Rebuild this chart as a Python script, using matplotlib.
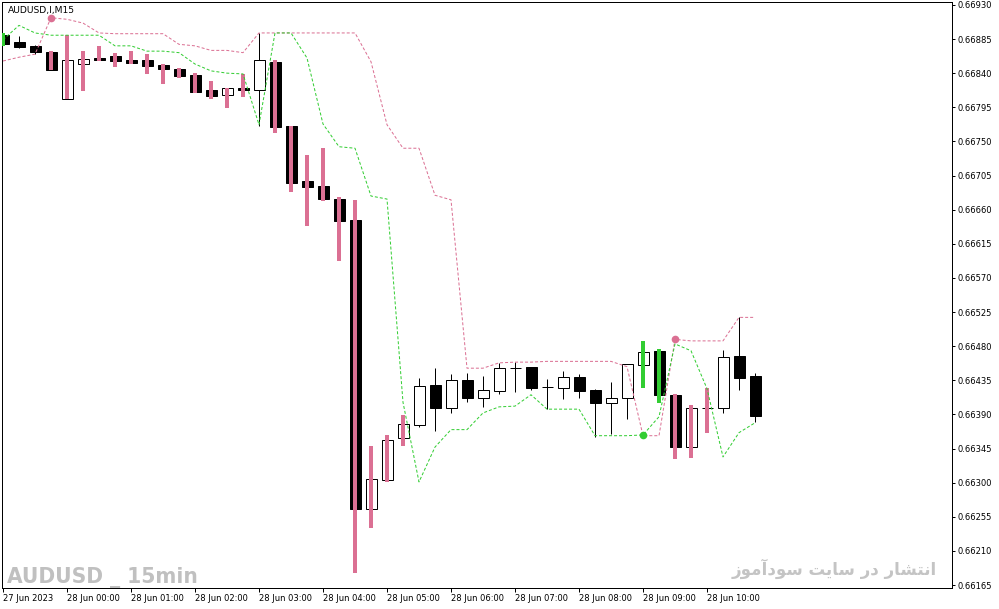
import matplotlib
matplotlib.use("Agg")
import matplotlib.pyplot as plt
from matplotlib import font_manager as fm
import numpy as np

plt.rcParams['lines.scale_dashes'] = False

# ---------------- data ----------------
symbol_title = "AUDUSD,I,M15"
watermark_left = "AUDUSD _ 15min"
watermark_right = "انتشار در سایت سودآموز"

time_labels = ["27 Jun 2023", "28 Jun 00:00", "28 Jun 01:00", "28 Jun 02:00",
               "28 Jun 03:00", "28 Jun 04:00", "28 Jun 05:00", "28 Jun 06:00",
               "28 Jun 07:00", "28 Jun 08:00", "28 Jun 09:00", "28 Jun 10:00"]
time_label_bar = [0, 4, 8, 12, 16, 20, 24, 28, 32, 36, 40, 44]

price_ticks = [0.66165, 0.66210, 0.66255, 0.66300, 0.66345, 0.66390, 0.66435,
               0.66480, 0.66525, 0.66570, 0.66615, 0.66660, 0.66705, 0.66750,
               0.66795, 0.66840, 0.66885, 0.66930]
price_labels = ["0.66165", "0.66210", "0.66255", "0.66300", "0.66345", "0.66390",
                "0.66435", "0.66480", "0.66525", "0.66570", "0.66615", "0.66660",
                "0.66705", "0.66750", "0.66795", "0.66840", "0.66885", "0.66930"]

opens = [0.66890, 0.66881, 0.66876, 0.66868, 0.66806, 0.66852, 0.66860, 0.66863,
         0.66857, 0.66857, 0.66851, 0.66845, 0.66838, 0.66818, 0.66811, 0.66820,
         0.66818, 0.66855, 0.66770, 0.66698, 0.66691, 0.66674, 0.66646, 0.66265,
         0.66304, 0.66359, 0.66376, 0.66429, 0.66399, 0.66435, 0.66412, 0.66421,
         0.66451, 0.66453, 0.66426, 0.66425, 0.66439, 0.66422, 0.66405, 0.66412,
         0.66455, 0.66474, 0.66416, 0.66347, 0.66399, 0.66399, 0.66467, 0.66441]
highs = [0.66893, 0.66889, 0.66877, 0.66869, 0.66890, 0.66869, 0.66876, 0.66867,
         0.66869, 0.66865, 0.66852, 0.66847, 0.66840, 0.66830, 0.66820, 0.66839,
         0.66893, 0.66857, 0.66770, 0.66732, 0.66741, 0.66677, 0.66673, 0.66348,
         0.66363, 0.66389, 0.66438, 0.66451, 0.66443, 0.66445, 0.66441, 0.66458,
         0.66459, 0.66453, 0.66437, 0.66447, 0.66443, 0.66424, 0.66433, 0.66457,
         0.66487, 0.66476, 0.66417, 0.66402, 0.66425, 0.66475, 0.66518, 0.66445]
lows = [0.66876, 0.66873, 0.66865, 0.66844, 0.66806, 0.66816, 0.66856, 0.66848,
        0.66852, 0.66839, 0.66826, 0.66834, 0.66814, 0.66806, 0.66794, 0.66809,
        0.66770, 0.66761, 0.66683, 0.66638, 0.66671, 0.66592, 0.66181, 0.66240,
        0.66301, 0.66348, 0.66373, 0.66368, 0.66392, 0.66406, 0.66400, 0.66417,
        0.66420, 0.66422, 0.66397, 0.66410, 0.66412, 0.66360, 0.66364, 0.66384,
        0.66425, 0.66405, 0.66331, 0.66333, 0.66366, 0.66392, 0.66422, 0.66380]
closes = [0.66878, 0.66874, 0.66868, 0.66844, 0.66857, 0.66859, 0.66857, 0.66856,
          0.66853, 0.66849, 0.66845, 0.66836, 0.66815, 0.66810, 0.66820, 0.66818,
          0.66857, 0.66769, 0.66695, 0.66690, 0.66674, 0.66645, 0.66265, 0.66305,
          0.66356, 0.66377, 0.66428, 0.66399, 0.66435, 0.66412, 0.66422, 0.66451,
          0.66451, 0.66425, 0.66426, 0.66439, 0.66421, 0.66405, 0.66412, 0.66457,
          0.66472, 0.66416, 0.66347, 0.66399, 0.66399, 0.66466, 0.66438, 0.66388]

# wick colour per bar: g = green, k = black, p = pink
wick_kind = list("gkk" + "p" * 13 + "k" + "p" * 9 + "k" * 14 + "gg" + "ppp" + "kkk")

upper_band = [0.66856, 0.66861, 0.66865, 0.66913, 0.66911, 0.66906, 0.66893, 0.66892,
              0.66892, 0.66892, 0.66892, 0.66878, 0.66876, 0.66870, 0.66870, 0.66867,
              0.66893, 0.66893, 0.66893, 0.66893, 0.66893, 0.66893, 0.66893, 0.66855,
              0.66772, 0.66741, 0.66741, 0.66679, 0.66673, 0.66451, 0.66451, 0.66458,
              0.66459, 0.66459, 0.66460, 0.66460, 0.66460, 0.66460, 0.66460, 0.66453,
              0.66362, 0.66362, 0.66489, 0.66487, 0.66487, 0.66487, 0.66518, 0.66518]
lower_band = [0.66884, 0.66903, 0.66893, 0.66890, 0.66890, 0.66890, 0.66890, 0.66876,
              0.66876, 0.66869, 0.66869, 0.66867, 0.66852, 0.66843, 0.66840, 0.66839,
              0.66772, 0.66893, 0.66893, 0.66860, 0.66773, 0.66743, 0.66741, 0.66678,
              0.66674, 0.66406, 0.66301, 0.66347, 0.66370, 0.66370, 0.66392, 0.66400,
              0.66401, 0.66416, 0.66397, 0.66397, 0.66397, 0.66362, 0.66362, 0.66362,
              0.66363, 0.66387, 0.66483, 0.66474, 0.66424, 0.66334, 0.66366, 0.66379]
upper_dot_bars = [3, 42]
lower_dot_bars = [40]

# ---------------- style ----------------
PINK = "#DB7093"
GREEN = "#32CD32"
PX = 0.72  # one pixel in points at dpi 100

W, H = 999, 609
L, R, T, B = 2, 952, 2, 588

fig = plt.figure(figsize=(W / 100, H / 100), dpi=100)
ax = fig.add_axes([L / W, 1 - B / H, (R - L) / W, (B - T) / H])

n = len(opens)
x = np.arange(n)
o = np.array(opens); c = np.array(closes); h = np.array(highs); lo = np.array(lows)
up = c >= o
kinds = np.array(wick_kind)

# thin black wicks (under bodies)
kk = kinds == "k"
ax.vlines(x[kk], lo[kk], h[kk], color="black", lw=PX, zorder=2)

# bodies
ax.bar(x, np.abs(c - o), bottom=np.minimum(o, c), width=11 / 16,
       color=["white" if u else "black" for u in up], edgecolor="black",
       linewidth=PX, zorder=3)

# thick coloured wicks drawn over bodies
for kind, col in (("p", PINK), ("g", GREEN)):
    m = kinds == kind
    ax.vlines(x[m], lo[m], h[m], color=col, lw=4 * PX, zorder=4, capstyle="butt")

# dashed bands
ub = np.array(upper_band); lb = np.array(lower_band)
ax.plot(x, ub, color=PINK, lw=PX, dashes=(3 * PX, 2 * PX), zorder=5)
ax.plot(x, lb, color=GREEN, lw=PX, dashes=(3 * PX, 2 * PX), zorder=5)
ax.plot(x[upper_dot_bars], ub[upper_dot_bars], "o", color=PINK, ms=5.5, mew=0, zorder=6)
ax.plot(x[lower_dot_bars], lb[lower_dot_bars], "o", color=GREEN, ms=5.5, mew=0, zorder=6)

# axes limits: one bar = 16 px, bar 0 centred at pixel 3
ax.set_xlim((L - 3) / 16, (R - 3) / 16)
ax.set_ylim(0.661612, 0.669338)

for s in ax.spines.values():
    s.set_linewidth(PX)
    s.set_color("black")

ax.yaxis.tick_right()
ax.set_yticks(price_ticks)
ax.set_yticklabels(price_labels)
ax.tick_params(axis="y", direction="out", length=3 * PX, width=PX, pad=2 * PX,
               labelsize=6, colors="black")
ax.set_xticks(time_label_bar)
ax.set_xticklabels(time_labels, ha="left")
ax.tick_params(axis="x", direction="out", length=4 * PX, width=PX, pad=2 * PX,
               labelsize=6, colors="black")

fig.text(8 / W, 1 - 10 / H, symbol_title, fontsize=6.6, va="center", ha="left",
         color="black")

# ---- left watermark: prefer a narrow / condensed bold face if one is installed
def pick_condensed():
    best = None
    for f in fm.fontManager.ttflist:
        nm = f.name.lower()
        narrow = ("narrow" in nm or "condensed" in nm or
                  str(f.stretch) in ("condensed", "semi-condensed", "extra-condensed",
                                     "ultra-condensed"))
        if not narrow:
            continue
        try:
            w = int(f.weight)
        except (TypeError, ValueError):
            w = 700 if "bold" in str(f.weight).lower() else 400
        score = abs(w - 700)
        if best is None or score < best[0]:
            best = (score, f.fname)
    return best[1] if best else None


fname = pick_condensed()
if fname:
    wm_prop = fm.FontProperties(fname=fname, size=28)
else:
    wm_prop = fm.FontProperties(family="DejaVu Sans", weight="bold", size=28)
wm = fig.text(7 / W, 1 - 583 / H, watermark_left, fontproperties=wm_prop,
              color="#c0c0c0", va="baseline", ha="left")
fig.canvas.draw()
wpx = wm.get_window_extent().width
if wpx > 0:
    wm.set_fontsize(28 * 191 / wpx)

# minimal Arabic-script shaping (presentation forms) for right-to-left display
FORMS = {
    "\u0627": ("\uFE8D", "\uFE8E", None, None),
    "\u0622": ("\uFE81", "\uFE82", None, None),
    "\u062F": ("\uFEA9", "\uFEAA", None, None),
    "\u0631": ("\uFEAD", "\uFEAE", None, None),
    "\u0632": ("\uFEAF", "\uFEB0", None, None),
    "\u0648": ("\uFEED", "\uFEEE", None, None),
    "\u0646": ("\uFEE5", "\uFEE6", "\uFEE7", "\uFEE8"),
    "\u062A": ("\uFE95", "\uFE96", "\uFE97", "\uFE98"),
    "\u0634": ("\uFEB5", "\uFEB6", "\uFEB7", "\uFEB8"),
    "\u0633": ("\uFEB1", "\uFEB2", "\uFEB3", "\uFEB4"),
    "\u06CC": ("\uFBFC", "\uFBFD", "\uFBFE", "\uFBFF"),
    "\u0645": ("\uFEE1", "\uFEE2", "\uFEE3", "\uFEE4"),
}


def shape(text):
    out = []
    for i, ch in enumerate(text):
        if ch not in FORMS:
            out.append(ch)
            continue
        prev = text[i - 1] if i > 0 else None
        nxt = text[i + 1] if i + 1 < len(text) else None
        dual = FORMS[ch][2] is not None
        jp = prev in FORMS and FORMS[prev][2] is not None
        jn = dual and nxt in FORMS
        iso, fin, ini, med = FORMS[ch]
        if jp and jn:
            out.append(med)
        elif jp:
            out.append(fin)
        elif jn:
            out.append(ini)
        else:
            out.append(iso)
    return "".join(out)[::-1]


fig.text(937 / W, 1 - 575 / H, shape(watermark_right), fontsize=12, fontweight="bold",
         family=["DejaVu Sans"], color="#c4c4c4", va="baseline", ha="right")

fig.savefig("out.png", dpi=100, facecolor="white")
